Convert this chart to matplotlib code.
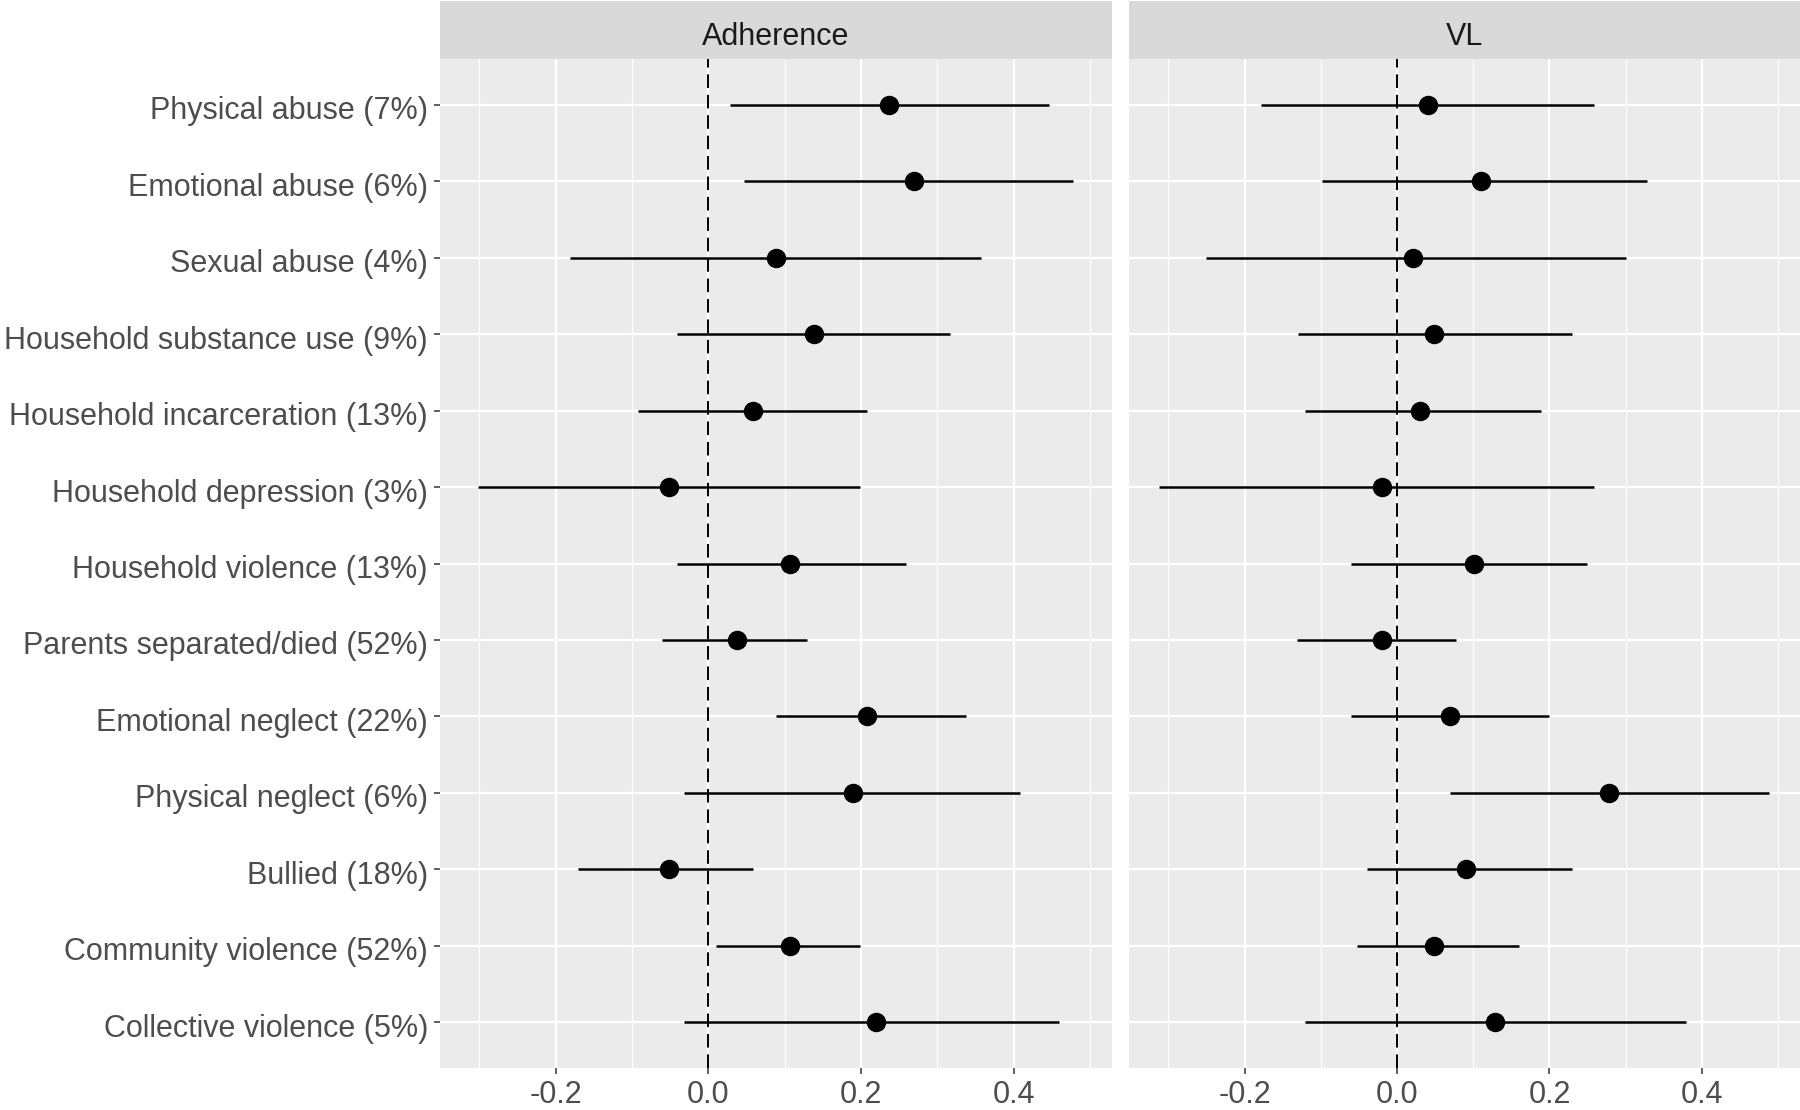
import matplotlib
matplotlib.use('Agg')
import matplotlib.pyplot as plt
import matplotlib.transforms as mtransforms
import numpy as np

plt.rcParams['font.family'] = ['Liberation Sans', 'DejaVu Sans']

# Categories (top to bottom)
labels = [
    'Physical abuse (7%)', 'Emotional abuse (6%)', 'Sexual abuse (4%)',
    'Household substance use (9%)', 'Household incarceration (13%)',
    'Household depression (3%)', 'Household violence (13%)',
    'Parents separated/died (52%)', 'Emotional neglect (22%)',
    'Physical neglect (6%)', 'Bullied (18%)', 'Community violence (52%)',
    'Collective violence (5%)',
]

# Adherence: estimate and 95% CI
adh_est = [0.237, 0.269, 0.088, 0.139, 0.059, -0.052, 0.107, 0.037, 0.208, 0.189, -0.052, 0.107, 0.219]
adh_lo = [0.028, 0.047, -0.181, -0.041, -0.092, -0.302, -0.041, -0.061, 0.089, -0.032, -0.171, 0.010, -0.032]
adh_hi = [0.446, 0.478, 0.357, 0.316, 0.208, 0.199, 0.259, 0.129, 0.338, 0.408, 0.059, 0.199, 0.459]

# Viral load
vl_est = [0.040, 0.110, 0.021, 0.049, 0.030, -0.020, 0.101, -0.020, 0.069, 0.278, 0.090, 0.049, 0.128]
vl_lo = [-0.178, -0.099, -0.251, -0.130, -0.121, -0.312, -0.061, -0.131, -0.061, 0.069, -0.039, -0.052, -0.121]
vl_hi = [0.259, 0.328, 0.300, 0.230, 0.189, 0.259, 0.249, 0.078, 0.199, 0.488, 0.230, 0.160, 0.379]

panels = ['Adherence', 'VL']
x_ticks = [-0.2, 0.0, 0.2, 0.4]
x_minor = [-0.3, -0.1, 0.1, 0.3, 0.5]

# shared x range with ggplot-like 5% expansion
all_lo = min(min(adh_lo), min(vl_lo))
all_hi = max(max(adh_hi), max(vl_hi))
pad = (all_hi - all_lo) * 0.05
xlim = (all_lo - pad, all_hi + pad)

fig = plt.figure(figsize=(18, 11.1), dpi=100)

W, H = 1800.0, 1110.0
bottom = 1 - 1068 / H
top = 1 - 59 / H
panel_pos = [(439.5 / W, (1111.5 - 439.5) / W), (1128.7 / W, (1799.5 - 1128.7) / W)]

data = [(adh_est, adh_lo, adh_hi), (vl_est, vl_lo, vl_hi)]
y = np.arange(len(labels))

for i, (name, (left, width), (est, lo, hi)) in enumerate(zip(panels, panel_pos, data)):
    ax = fig.add_axes([left, bottom, width, top - bottom])
    ax.set_facecolor('#EBEBEB')
    for s in ax.spines.values():
        s.set_visible(False)

    # grid
    for xm in x_minor:
        ax.axvline(xm, color='white', lw=0.8, zorder=0)
    for xt in x_ticks:
        ax.axvline(xt, color='white', lw=1.6, zorder=0)
    for yy in y:
        ax.axhline(yy, color='white', lw=1.6, zorder=0)

    ax.axvline(0, color='black', lw=1.4, linestyle=(0, (7, 3.5)), zorder=1)

    ax.hlines(y, lo, hi, color='black', lw=1.8, zorder=2)
    ax.plot(est, y, 'o', color='black', markersize=13, zorder=3)

    ax.set_xlim(xlim)
    ax.set_ylim(len(labels) - 1 + 0.6, -0.6)
    ax.set_xticks(x_ticks)
    ax.set_xticklabels([f'{v:.1f}' for v in x_ticks])
    ax.set_yticks(y)
    ax.tick_params(axis='both', colors='#333333', labelcolor='#4D4D4D',
                   labelsize=22, length=4.3, width=1.1, pad=4)
    if i == 0:
        ax.set_yticklabels(labels)
        shift = mtransforms.ScaledTranslation(0, -3 / 100, fig.dpi_scale_trans)
        for t in ax.get_yticklabels():
            t.set_transform(t.get_transform() + shift)
    else:
        ax.set_yticklabels([])
        ax.tick_params(axis='y', length=0)

    # facet strip
    sax = fig.add_axes([left, top, width, (1 - 1 / H) - top])
    sax.set_facecolor('#D9D9D9')
    sax.set_xticks([])
    sax.set_yticks([])
    for s in sax.spines.values():
        s.set_visible(False)
    sax.text(0.5, 0.24, name, ha='center', va='baseline', fontsize=22,
             color='#1A1A1A', transform=sax.transAxes)

fig.savefig('out.png', dpi=100, facecolor='white')
